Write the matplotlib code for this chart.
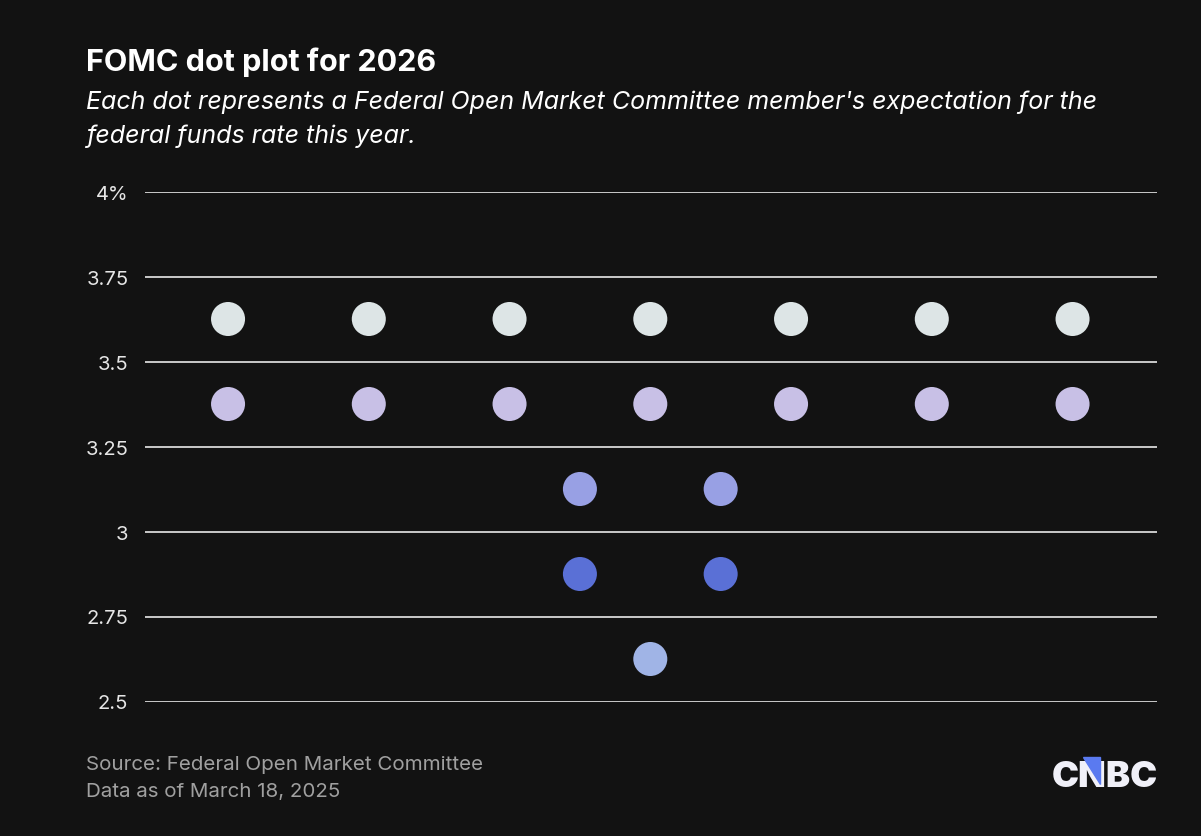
import matplotlib.pyplot as plt
from matplotlib.patches import Polygon

plt.rcParams['font.family'] = ['Inter', 'DejaVu Sans']

# rates each member expects, grouped by row of dots
rows = [3.625, 3.375, 3.125, 2.875, 2.625]
row_positions = [
    [0, 1, 2, 3, 4, 5, 6],
    [0, 1, 2, 3, 4, 5, 6],
    [2.5, 3.5],
    [2.5, 3.5],
    [3],
]
row_colors = ['#dde5e6', '#c8c0e6', '#98a0e4', '#5a70d6', '#a0b4e6']

yticks = [2.5, 2.75, 3, 3.25, 3.5, 3.75, 4]
ytick_labels = ['2.5', '2.75', '3', '3.25', '3.5', '3.75', '4%']

bg = '#121212'
fig = plt.figure(figsize=(12.01, 8.37), dpi=100, facecolor=bg)
W, H = 1201, 837
ax = fig.add_axes([145 / W, 1 - 702.5 / H, (1157 - 145) / W, (702 - 192) / H])
ax.set_facecolor(bg)

for y in yticks:
    ax.axhline(y, color='#e8e8e8', lw=1.2, zorder=1)

for rate, xs, c in zip(rows, row_positions, row_colors):
    ax.scatter(xs, [rate] * len(xs), s=600, color=c, edgecolors='none', zorder=3)

ax.set_xlim(-0.59, 6.60)
ax.set_ylim(2.5, 4)
ax.set_xticks([])
ax.set_yticks(yticks)
ax.set_yticklabels(ytick_labels, color='#e6e6e6', fontsize=14.5)
ax.tick_params(axis='y', length=0, pad=12)
for s in ax.spines.values():
    s.set_visible(False)

fig.text(86 / W, 1 - 62 / H, 'FOMC dot plot for 2026', color='white',
         fontsize=22, fontweight='bold', va='center', ha='left')
fig.text(86 / W, 1 - 102 / H,
         "Each dot represents a Federal Open Market Committee member's expectation for the",
         color='white', fontsize=18, style='italic', va='center', ha='left')
fig.text(86 / W, 1 - 136 / H, 'federal funds rate this year.',
         color='white', fontsize=18, style='italic', va='center', ha='left')

fig.text(86 / W, 1 - 765 / H, 'Source: Federal Open Market Committee',
         color='#a0a0a0', fontsize=14.8, va='center', ha='left')
fig.text(86 / W, 1 - 792 / H, 'Data as of March 18, 2025',
         color='#a0a0a0', fontsize=14.8, va='center', ha='left')

# CNBC logo
fig.text(1158 / W, 1 - 778 / H, 'CNBC', color='#f0f0f8', fontsize=26,
         fontweight='black', va='center', ha='right')
tri = Polygon([[1083 / W, 1 - 758 / H], [1100 / W, 1 - 758 / H], [1100 / W, 1 - 785 / H]],
              closed=True, transform=fig.transFigure, color='#5a7af0', zorder=5)
fig.patches.append(tri)

fig.savefig('out.png', dpi=100, facecolor=bg)
